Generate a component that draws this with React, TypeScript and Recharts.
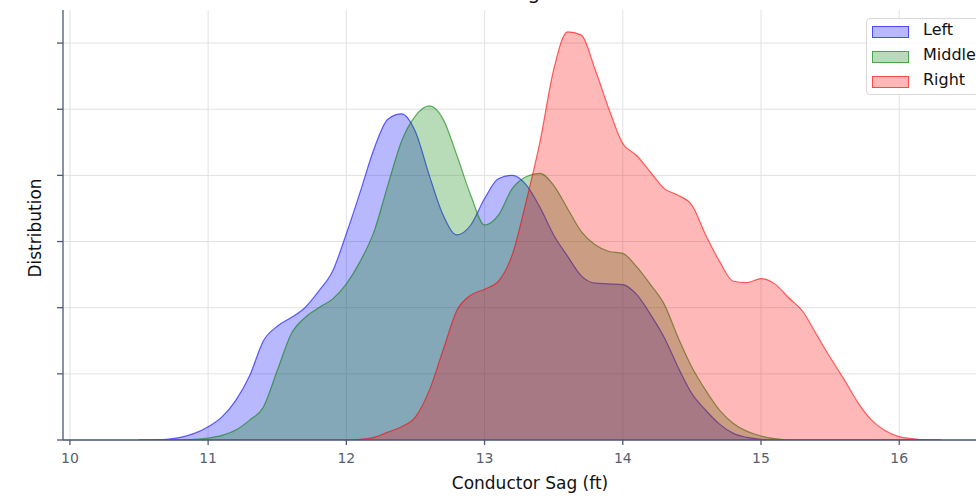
import { AreaChart, Area, XAxis, YAxis, CartesianGrid } from 'recharts'

const sag = [
  10.5, 10.6, 10.7, 10.8, 10.9, 11.0, 11.1, 11.2, 11.3, 11.4, 11.5, 11.6, 11.7, 11.8, 11.9,
  12.0, 12.1, 12.2, 12.3, 12.4, 12.5, 12.6, 12.7, 12.8, 12.9, 13.0, 13.1, 13.2, 13.3, 13.4,
  13.5, 13.6, 13.7, 13.8, 13.9, 14.0, 14.1, 14.2, 14.3, 14.4, 14.5, 14.6, 14.7, 14.8, 14.9,
  15.0, 15.1, 15.2, 15.3, 15.4, 15.5, 15.6, 15.7, 15.8, 15.9, 16.0, 16.1, 16.2, 16.3,
]

const left = [
  0, 0, 0.001, 0.004, 0.01, 0.02, 0.035, 0.06, 0.097, 0.15, 0.172, 0.185, 0.2, 0.225, 0.255,
  0.312, 0.375, 0.44, 0.485, 0.493, 0.466, 0.4, 0.34, 0.31, 0.325, 0.365, 0.395, 0.4, 0.386, 0.352,
  0.31, 0.278, 0.248, 0.237, 0.236, 0.235, 0.22, 0.19, 0.155, 0.11, 0.07, 0.045, 0.024, 0.01, 0.004,
  0.001, 0, 0, 0, 0, 0, 0, 0, 0, 0, 0, 0, 0, 0,
]

const middle = [
  0, 0, 0, 0, 0.001, 0.003, 0.007, 0.015, 0.03, 0.05, 0.105, 0.16, 0.185, 0.2, 0.213,
  0.236, 0.27, 0.315, 0.385, 0.452, 0.49, 0.505, 0.485, 0.43, 0.37, 0.325, 0.34, 0.38, 0.398, 0.403,
  0.385, 0.35, 0.315, 0.295, 0.285, 0.282, 0.262, 0.235, 0.205, 0.155, 0.11, 0.075, 0.045, 0.025, 0.013,
  0.006, 0.002, 0, 0, 0, 0, 0, 0, 0, 0, 0, 0, 0, 0,
]

const right = [
  0, 0, 0, 0, 0, 0, 0, 0, 0, 0, 0, 0, 0, 0, 0,
  0, 0.001, 0.004, 0.012, 0.02, 0.035, 0.075, 0.136, 0.196, 0.219, 0.228, 0.24, 0.28, 0.36, 0.45,
  0.56, 0.617, 0.612, 0.56, 0.5, 0.448, 0.43, 0.405, 0.38, 0.37, 0.355, 0.31, 0.27, 0.24, 0.238,
  0.244, 0.236, 0.215, 0.195, 0.16, 0.125, 0.092, 0.057, 0.03, 0.014, 0.005, 0.002, 0, 0,
]

const xTicks = [10, 11, 12, 13, 14, 15, 16]
const yTicks = [0, 0.1, 0.2, 0.3, 0.4, 0.5, 0.6]

const seriesNames = ['Left', 'Middle', 'Right']
const seriesKeys = ['left', 'middle', 'right']
const seriesColors = ['#0000ff', '#008000', '#ff0000']
const seriesEdges = ['rgba(0,0,255,0.6)', 'rgba(0,128,0,0.6)', 'rgba(255,0,0,0.6)']
const seriesFills = ['rgba(0,0,255,0.28)', 'rgba(0,128,0,0.28)', 'rgba(255,0,0,0.28)']

const data = sag.map((x, i) => ({ x, left: left[i], middle: middle[i], right: right[i] }))

const font = '"DejaVu Sans", sans-serif'
const axisColor = '#4b5874'

export default function App() {
  return (
    <div
      style={{
        position: 'fixed',
        left: 0,
        top: 0,
        width: 976,
        height: 496,
        overflow: 'hidden',
        fontFamily: font,
        background: '#fff',
      }}
    >
      <div
        style={{
          position: 'absolute',
          left: 528,
          top: -19,
          transform: 'translateX(-50%)',
          fontSize: 20,
          lineHeight: '23px',
          whiteSpace: 'nowrap',
          color: '#111',
        }}
      >
        Conductor Sag Distribution
      </div>

      <AreaChart
        width={1000}
        height={496}
        data={data}
        margin={{ top: 10, right: 13, left: 62, bottom: 10 }}
        style={{ fontFamily: font }}
      >
        <CartesianGrid stroke="#e2e2e2" horizontalValues={yTicks} verticalValues={xTicks} />
        <XAxis
          dataKey="x"
          type="number"
          domain={[9.95, 16.635]}
          ticks={xTicks}
          allowDataOverflow
          height={46}
          stroke={axisColor}
          strokeWidth={1.3}
          tickSize={5}
          tickMargin={8}
          tick={{ fill: '#555f70', fontSize: 14 }}
        />
        <YAxis
          type="number"
          domain={[0, 0.65]}
          ticks={yTicks}
          allowDataOverflow
          width={1}
          stroke={axisColor}
          strokeWidth={1.3}
          tickSize={6}
          tickFormatter={() => ''}
        />
        {seriesKeys.map((k, i) => (
          <Area
            key={k}
            type="monotone"
            dataKey={k}
            name={seriesNames[i]}
            stroke={seriesColors[i]}
            strokeOpacity={0.6}
            strokeWidth={1.2}
            fill={seriesColors[i]}
            fillOpacity={0.28}
            dot={false}
            activeDot={false}
            isAnimationActive={false}
          />
        ))}
      </AreaChart>

      <div
        style={{
          position: 'absolute',
          left: 35,
          top: 228,
          transform: 'translate(-50%, -50%) rotate(-90deg)',
          fontSize: 17,
          whiteSpace: 'nowrap',
          color: '#111',
        }}
      >
        Distribution
      </div>
      <div
        style={{
          position: 'absolute',
          left: 530,
          top: 483,
          transform: 'translate(-50%, -50%)',
          fontSize: 17,
          lineHeight: '20px',
          whiteSpace: 'nowrap',
          color: '#111',
        }}
      >
        Conductor Sag (ft)
      </div>

      <div
        style={{
          position: 'absolute',
          left: 866,
          top: 18,
          width: 140,
          height: 77,
          boxSizing: 'border-box',
          border: '1px solid #d8d8d8',
          borderRadius: 4,
          background: 'rgba(255,255,255,0.85)',
          paddingTop: 0,
        }}
      >
        {seriesNames.map((n, i) => (
          <div key={n} style={{ display: 'flex', alignItems: 'center', height: 25, paddingLeft: 5 }}>
            <div
              style={{
                width: 35,
                height: 10,
                border: `1px solid ${seriesEdges[i]}`,
                background: seriesFills[i],
              }}
            />
            <span style={{ marginLeft: 14, fontSize: 16, lineHeight: '18px', marginTop: -3, color: '#111' }}>
              {n}
            </span>
          </div>
        ))}
      </div>
    </div>
  )
}
